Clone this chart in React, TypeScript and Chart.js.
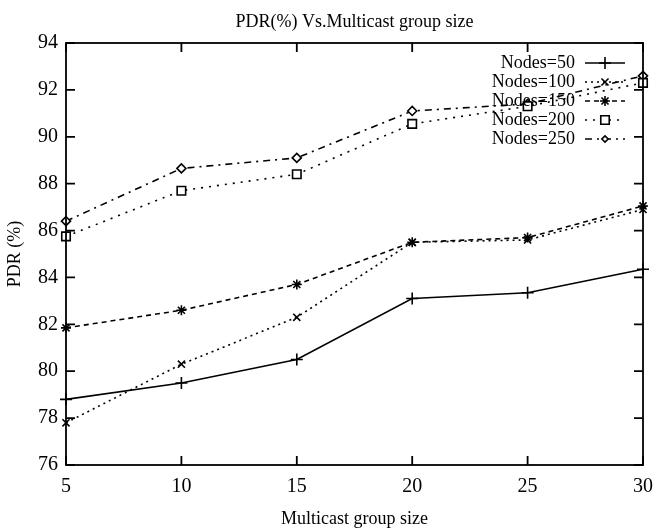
import React, { useEffect, useRef } from "react";
import { Chart, registerables } from "chart.js";

Chart.register(...registerables);

const groupSizes = [5, 10, 15, 20, 25, 30];
const nodes50 = [78.8, 79.5, 80.5, 83.1, 83.35, 84.35];
const nodes100 = [77.8, 80.3, 82.3, 85.5, 85.6, 86.9];
const nodes150 = [81.85, 82.6, 83.7, 85.5, 85.7, 87.05];
const nodes200 = [85.75, 87.7, 88.4, 90.55, 91.3, 92.3];
const nodes250 = [86.4, 88.65, 89.1, 91.1, 91.4, 92.6];
const seriesLabels = ["Nodes=50", "Nodes=100", "Nodes=150", "Nodes=200", "Nodes=250"];
const chartTitle = "PDR(%) Vs.Multicast group size";
const xTitle = "Multicast group size";
const yTitle = "PDR (%)";

const FONT = "'Liberation Serif', 'Times New Roman', serif";

const styles = [
  { dash: [], point: "cross", r: 6, fill: "#000" },
  { dash: [2, 4], point: "crossRot", r: 5, fill: "#000" },
  { dash: [5, 4], point: "star", r: 5, fill: "#000" },
  { dash: [2, 6], point: "rect", r: 6, fill: "#fff" },
  { dash: [7, 5, 2, 5], point: "rectRot", r: 4.5, fill: "#fff" },
];

function drawMarker(ctx: CanvasRenderingContext2D, style: string, x: number, y: number, r: number, fill: string) {
  ctx.save();
  ctx.setLineDash([]);
  ctx.beginPath();
  const s = Math.SQRT1_2 * r;
  if (style === "cross") {
    ctx.moveTo(x - r, y); ctx.lineTo(x + r, y);
    ctx.moveTo(x, y - r); ctx.lineTo(x, y + r);
    ctx.stroke();
  } else if (style === "crossRot") {
    ctx.moveTo(x - s, y - s); ctx.lineTo(x + s, y + s);
    ctx.moveTo(x - s, y + s); ctx.lineTo(x + s, y - s);
    ctx.stroke();
  } else if (style === "star") {
    ctx.moveTo(x - r, y); ctx.lineTo(x + r, y);
    ctx.moveTo(x, y - r); ctx.lineTo(x, y + r);
    ctx.moveTo(x - s, y - s); ctx.lineTo(x + s, y + s);
    ctx.moveTo(x - s, y + s); ctx.lineTo(x + s, y - s);
    ctx.stroke();
  } else if (style === "rect") {
    ctx.rect(x - s, y - s, 2 * s, 2 * s);
    ctx.fillStyle = fill; ctx.fill(); ctx.stroke();
  } else if (style === "rectRot") {
    ctx.moveTo(x - s, y); ctx.lineTo(x, y + s); ctx.lineTo(x + s, y); ctx.lineTo(x, y - s); ctx.closePath();
    ctx.fillStyle = fill; ctx.fill(); ctx.stroke();
  }
  ctx.restore();
}

const framePlugin = {
  id: "frame",
  afterDraw(chart: any) {
    const { ctx, chartArea } = chart;
    const { left, right, top, bottom } = chartArea;
    const xs = chart.scales.x;
    const ys = chart.scales.y;
    ctx.save();
    ctx.strokeStyle = "#000";
    ctx.lineWidth = 1.8;
    ctx.setLineDash([]);
    ctx.strokeRect(left, top, right - left, bottom - top);
    const tl = 9;
    ctx.beginPath();
    ys.ticks.forEach((t: any) => {
      const py = ys.getPixelForValue(t.value);
      ctx.moveTo(left, py); ctx.lineTo(left + tl, py);
      ctx.moveTo(right, py); ctx.lineTo(right - tl, py);
    });
    xs.ticks.forEach((t: any) => {
      const px = xs.getPixelForValue(t.value);
      ctx.moveTo(px, bottom); ctx.lineTo(px, bottom - tl);
      ctx.moveTo(px, top); ctx.lineTo(px, top + tl);
    });
    ctx.stroke();

    // titles
    ctx.fillStyle = "#000";
    ctx.textAlign = "center";
    ctx.textBaseline = "middle";
    ctx.font = `18px ${FONT}`;
    ctx.fillText(chartTitle, (left + right) / 2, 22);
    ctx.fillText(xTitle, (left + right) / 2, 519);
    ctx.save();
    ctx.translate(15, (top + bottom) / 2);
    ctx.rotate(-Math.PI / 2);
    ctx.fillText(yTitle, 0, 0);
    ctx.restore();

    // legend
    ctx.lineWidth = 1.6;
    ctx.font = `18px ${FONT}`;
    ctx.textAlign = "right";
    seriesLabels.forEach((lab, i) => {
      const ly = 63 + i * 19;
      const st = styles[i];
      ctx.fillStyle = "#000";
      ctx.fillText(lab, 575, ly);
      ctx.beginPath();
      ctx.setLineDash(st.dash);
      ctx.moveTo(585, ly); ctx.lineTo(625, ly);
      ctx.stroke();
      ctx.setLineDash([]);
      drawMarker(ctx, st.point, 605, ly, st.r, st.fill);
    });
    ctx.restore();
  },
};

export default function App() {
  const ref = useRef<HTMLCanvasElement | null>(null);
  useEffect(() => {
    if (!ref.current) return;
    const all = [nodes50, nodes100, nodes150, nodes200, nodes250];
    const chart = new Chart(ref.current, {
      type: "line",
      data: {
        datasets: all.map((vals, i) => ({
          label: seriesLabels[i],
          data: groupSizes.map((x, j) => ({ x, y: vals[j] })),
          borderColor: "#000",
          borderWidth: 1.6,
          borderDash: styles[i].dash,
          pointStyle: styles[i].point as any,
          pointRadius: styles[i].r,
          pointBorderWidth: 1.6,
          pointBorderColor: "#000",
          pointBackgroundColor: styles[i].fill,
          tension: 0,
          fill: false,
          clip: false as any,
        })),
      },
      options: {
        animation: false,
        responsive: false,
        layout: { padding: { top: 43, right: 13, left: 0, bottom: 0 } },
        plugins: {
          legend: { display: false },
          title: { display: false },
          tooltip: { enabled: false },
        },
        scales: {
          x: {
            type: "linear",
            min: 5,
            max: 30,
            ticks: { stepSize: 5, color: "#000", font: { family: FONT, size: 20 }, padding: 10 },
            grid: { display: false, drawTicks: false },
            border: { display: false },
            afterFit: (s: any) => { s.height = 65; s.paddingLeft = 0; s.paddingRight = 0; },
          },
          y: {
            min: 76,
            max: 94,
            ticks: { stepSize: 2, color: "#000", font: { family: FONT, size: 20 }, padding: 8 },
            grid: { display: false, drawTicks: false },
            border: { display: false },
            afterFit: (s: any) => { s.width = 66; s.paddingTop = 0; s.paddingBottom = 0; },
          },
        },
      },
      plugins: [framePlugin],
    });
    return () => chart.destroy();
  }, []);
  return (
    <div style={{ position: "fixed", left: 0, top: 0, width: 656, height: 530, background: "#fff" }}>
      <canvas ref={ref} width={656} height={530} />
    </div>
  );
}
